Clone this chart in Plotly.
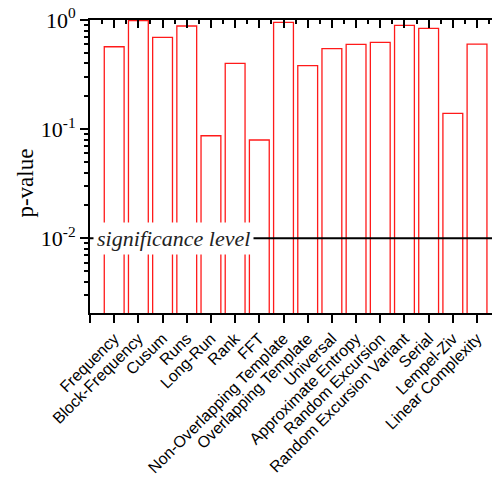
import plotly.graph_objects as go

categories = ["Frequency", "Block-Frequency", "Cusum", "Runs", "Long-Run", "Rank", "FFT",
              "Non-Overlapping Template", "Overlapping Template", "Universal",
              "Approximate Entropy", "Random Excursion", "Random Excursion Variant",
              "Serial", "Lempel-Ziv", "Linear Complexity"]
p_values = [0.569, 0.99, 0.694, 0.881, 0.087, 0.401, 0.0796, 0.952, 0.382, 0.546,
            0.599, 0.625, 0.894, 0.839, 0.1397, 0.60]
significance = 0.01
y_tickvals = [1, 0.1, 0.01]
y_ticktext = ["10<sup>0</sup>", "10<sup>-1</sup>", "10<sup>-2</sup>"]

positions = list(range(1, len(categories) + 1))
x_range = [0, 16.95]
y_range = [-2.684, 0]
minor_vals = [m * 10.0 ** k for k in (-3, -2, -1) for m in range(2, 10)]

serif = "Liberation Serif, Times New Roman, serif"
sans = "Liberation Sans, Arial, sans-serif"

fig = go.Figure()
fig.add_trace(go.Bar(x=positions, y=p_values, width=0.82,
                     marker=dict(color="rgba(0,0,0,0)", line=dict(color="#ff1a1a", width=1.3)),
                     showlegend=False, hoverinfo="skip"))
fig.add_trace(go.Scatter(x=x_range, y=[significance, significance], mode="lines",
                         line=dict(color="black", width=2), showlegend=False, hoverinfo="skip"))
fig.add_trace(go.Scatter(x=[None], y=[None], xaxis="x2", yaxis="y2", showlegend=False,
                         hoverinfo="skip"))

# the page body adds an 8px margin, so the figure is 8px smaller and margins shifted
fig.update_layout(
    width=492, height=469,
    margin=dict(l=82, r=0, t=12, b=164, autoexpand=False),
    paper_bgcolor="white", plot_bgcolor="white",
    xaxis=dict(range=x_range, tickmode="array", tickvals=positions,
               ticktext=categories, tickangle=-45, automargin=False,
               ticklabeloverflow="allow",
               ticks="outside", ticklen=8, tickwidth=2, tickcolor="black",
               minor=dict(ticks="outside", ticklen=8, tickwidth=2, tickcolor="black",
                          tickmode="array", tickvals=[0]),
               showline=True, linewidth=2, linecolor="black", showgrid=False, zeroline=False,
               tickfont=dict(family=sans, size=16, color="black")),
    xaxis2=dict(range=x_range, overlaying="x", side="top", tickmode="array",
                tickvals=[0] + positions, showticklabels=False, automargin=False,
                ticks="inside", ticklen=8, tickwidth=2, tickcolor="black",
                minor=dict(ticks="inside", ticklen=4, tickwidth=2, tickcolor="black",
                           tickmode="array", tickvals=[p - 0.5 for p in positions] + [16.5]),
                showline=True, linewidth=2, linecolor="black", showgrid=False, zeroline=False),
    yaxis=dict(type="log", range=y_range, tickmode="array", tickvals=y_tickvals,
               ticktext=y_ticktext, automargin=False, ticklabeloverflow="allow",
               ticks="outside", ticklen=8, tickwidth=2, tickcolor="black",
               minor=dict(ticks="outside", ticklen=4, tickwidth=2, tickcolor="black",
                          tickmode="array", tickvals=minor_vals, showgrid=False),
               showline=True, linewidth=2, linecolor="black", showgrid=False, zeroline=False,
               tickfont=dict(family=serif, size=22, color="black")),
    yaxis2=dict(type="log", range=y_range, overlaying="y", side="right", tickmode="array",
                tickvals=y_tickvals, showticklabels=False, automargin=False,
                ticks="inside", ticklen=7, tickwidth=2, tickcolor="black",
                minor=dict(ticks="inside", ticklen=3, tickwidth=2, tickcolor="black",
                           tickmode="array", tickvals=minor_vals, showgrid=False),
                showline=False, showgrid=False, zeroline=False),
    annotations=[
        dict(text="p-value", textangle=-90, xref="paper", yref="paper",
             x=-0.157, y=0.444, xanchor="center", yanchor="middle", showarrow=False,
             font=dict(family=serif, size=23, color="black")),
        dict(text="<i>significance level</i>", xref="paper", yref="y",
             x=0.008, y=-2, xanchor="left", yanchor="middle", showarrow=False,
             bgcolor="white", borderpad=3,
             font=dict(family=serif, size=22, color="#222222")),
    ],
)

fig.write_html("out.html")
